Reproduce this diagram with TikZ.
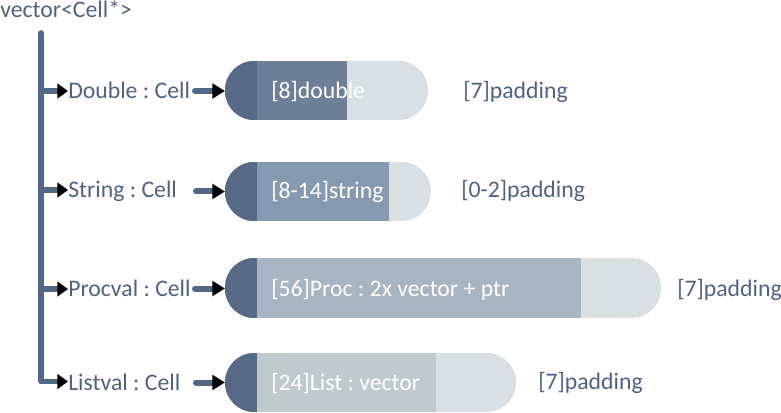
\documentclass[tikz,border=0pt]{standalone}
\usepackage{fontspec}
\setmainfont{Carlito}
\usetikzlibrary{arrows.meta}
\definecolor{slate}{HTML}{536887}
\definecolor{txt}{HTML}{4F6286}
\definecolor{capc}{HTML}{566A87}
\definecolor{midA}{HTML}{6E7F9A}
\definecolor{midB}{HTML}{8599B0}
\definecolor{midC}{HTML}{A7B5C2}
\definecolor{midD}{HTML}{BFCACF}
\definecolor{lightc}{HTML}{D8E0E3}
\frenchspacing
\tikzset{
  lbl/.style={anchor=base west, inner sep=0pt, text=txt, font=\fontsize{17.8}{20}\selectfont},
  intxt/.style={anchor=base west, inner sep=0pt, text=white, font=\fontsize{17.8}{20}\selectfont},
  trunk/.style={draw=slate, line width=4.2pt, line cap=round, line join=round},
  branch/.style={draw=slate, line width=4.2pt, -{Triangle[color=black,length=8pt,width=11pt]}},
  ptr/.style={draw=slate, line width=4.5pt, line cap=round, -{Triangle[color=black,length=9.5pt,width=11pt]}},
  pillbox/.style={draw=none, fill=none, inner sep=0pt, anchor=north west},
}
\begin{document}
\begin{tikzpicture}[x=0.75pt,y=-0.75pt]
\useasboundingbox (0,0) rectangle (781,413);

% title
\node[lbl] (title) at (0,18) {vector<Cell*>};

% pills
\newcommand{\drawpill}[6]{% top, bottom, right end, split x, colour, name
  \begin{scope}
    \clip[rounded corners=21.9pt] (225,#1) rectangle (#3,#2);
    \fill[lightc] (225,#1) rectangle (#3,#2);
    \fill[#5] (225,#1) rectangle (#4,#2);
    \fill[capc] (225,#1) rectangle (257,#2);
  \end{scope}
  \node[pillbox, minimum width={(#3-225)*0.75pt}, minimum height={(#2-#1)*0.75pt}] (#6) at (225,#1) {};
}
\drawpill{61}{120}{428}{347}{midA}{p1}
\drawpill{162}{221}{431}{389}{midB}{p2}
\drawpill{258}{318}{661}{581}{midC}{p3}
\drawpill{353}{412}{516}{436}{midD}{p4}

% texts in pills
\node[intxt] (t1) at (271,98.5) {[8]double};
\node[intxt] (t2) at (271,199) {[8-14]string};
\node[intxt] (t3) at (271,296) {[56]Proc : 2x vector + ptr};
\node[intxt] (t4) at (271,390) {[24]List : vector};

% padding labels
\node[lbl] (pd1) at (463,98.5) {[7]padding};
\node[lbl] (pd2) at (461,198) {[0-2]padding};
\node[lbl] (pd3) at (677,296) {[7]padding};
\node[lbl] (pd4) at (538,389.5) {[7]padding};

% labels
\node[lbl] (l1) at (68,98.5) {Double : Cell};
\node[lbl] (l2) at (68,197.5) {String : Cell};
\node[lbl] (l3) at (68,296.5) {Procval : Cell};
\node[lbl] (l4) at (68,390) {Listval : Cell};

% trunk
\coordinate (top) at (41,33);
\coordinate (b1) at (41,91);
\coordinate (b2) at (41,190);
\coordinate (b3) at (41,289);
\draw[trunk] (top) -- (41,381.5) -- (55,381.5);
\draw[branch] (41,381.5) -- (l4.west |- 0,381.5);
\draw[branch] (b1) -- (l1.west |- b1);
\draw[branch] (b2) -- (l2.west |- b2);
\draw[branch] (b3) -- (l3.west |- b3);

% pointer arrows
\coordinate (s1) at (195,91);
\coordinate (s2) at (196,191.5);
\coordinate (s3) at (195,288.5);
\coordinate (s4) at (196,382.5);
\draw[ptr] (s1) -- (p1.west |- s1);
\draw[ptr] (s2) -- (p2.west |- s2);
\draw[ptr] (s3) -- (p3.west |- s3);
\draw[ptr] (s4) -- (p4.west |- s4);
\end{tikzpicture}
\end{document}
